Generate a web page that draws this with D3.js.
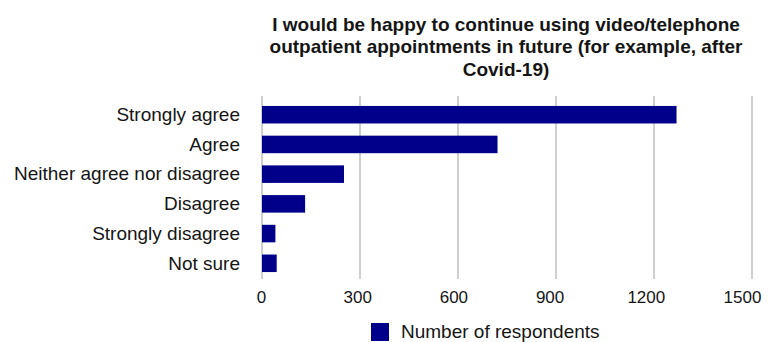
<!DOCTYPE html>
<html>
<head>
<meta charset="utf-8">
<script src="https://cdn.jsdelivr.net/npm/d3@7"></script>
<style>
  body { margin: 0; background: #fff; }
  text { font-family: "Liberation Sans", Arial, sans-serif; fill: #151515; }
</style>
</head>
<body>
<div id="chart"></div>
<script>
// data
var categories = ["Strongly agree", "Agree", "Neither agree nor disagree", "Disagree", "Strongly disagree", "Not sure"];
var respondents = [1269, 721, 251, 132, 41, 45];
var xTicks = [0, 300, 600, 900, 1200, 1500];
var titleLines = [
  "I would be happy to continue using video/telephone",
  "outpatient appointments in future (for example, after",
  "Covid-19)"
];
var seriesName = "Number of respondents";

var W = 779, H = 342;
var barColor = "#00008b";

var svg = d3.select("#chart")
  .append("svg")
    .attr("width", W)
    .attr("height", H);

var x = d3.scaleLinear()
  .domain([0, 1500])
  .range([262, 752]);

// the tick labels sit slightly left of their grid lines in the original
var xLabel = d3.scaleLinear()
  .domain([0, 1500])
  .range([261, 742]);

var y = d3.scaleBand()
  .domain(categories)
  .range([100, 278])
  .paddingInner(0.41)
  .paddingOuter(0.2);

// title
svg.append("g")
  .selectAll("text")
  .data(titleLines)
  .enter()
  .append("text")
    .attr("x", 506)
    .attr("y", function(d, i) { return 31 + i * 22.3; })
    .attr("text-anchor", "middle")
    .style("font-size", "19px")
    .style("font-weight", "bold")
    .text(function(d) { return d; });

// vertical grid lines
svg.append("g")
  .selectAll("line")
  .data(xTicks)
  .enter()
  .append("line")
    .attr("x1", function(d) { return x(d); })
    .attr("x2", function(d) { return x(d); })
    .attr("y1", 96)
    .attr("y2", 279)
    .attr("stroke", "#cfcfcf")
    .attr("stroke-width", 2);

// bars
svg.append("g")
  .selectAll("rect")
  .data(categories)
  .enter()
  .append("rect")
    .attr("x", x(0))
    .attr("y", function(d) { return y(d); })
    .attr("width", function(d, i) { return x(respondents[i]) - x(0); })
    .attr("height", y.bandwidth())
    .attr("fill", barColor);

// x axis labels
var xAxis = svg.append("g")
  .attr("transform", "translate(0,302.5)")
  .call(d3.axisBottom(xLabel).tickValues(xTicks).tickSize(0).tickPadding(0).tickFormat(d3.format("d")));
xAxis.select(".domain").remove();
xAxis.selectAll("text")
  .attr("y", 0)
  .attr("dy", 0)
  .style("font-size", "17px")
  .style("fill", "#151515");

// y axis labels
var yAxis = svg.append("g")
  .attr("transform", "translate(240,0)")
  .call(d3.axisLeft(y).tickSize(0).tickPadding(0));
yAxis.select(".domain").remove();
yAxis.selectAll("text")
  .attr("dy", "0.33em")
  .style("font-size", "19px")
  .style("fill", "#151515");

// legend
var legend = svg.append("g").attr("transform", "translate(371,323)");
legend.append("rect")
  .attr("width", 18)
  .attr("height", 18)
  .attr("fill", barColor);
legend.append("text")
  .attr("x", 30)
  .attr("y", 14.6)
  .style("font-size", "19px")
  .text(seriesName);
</script>
</body>
</html>
